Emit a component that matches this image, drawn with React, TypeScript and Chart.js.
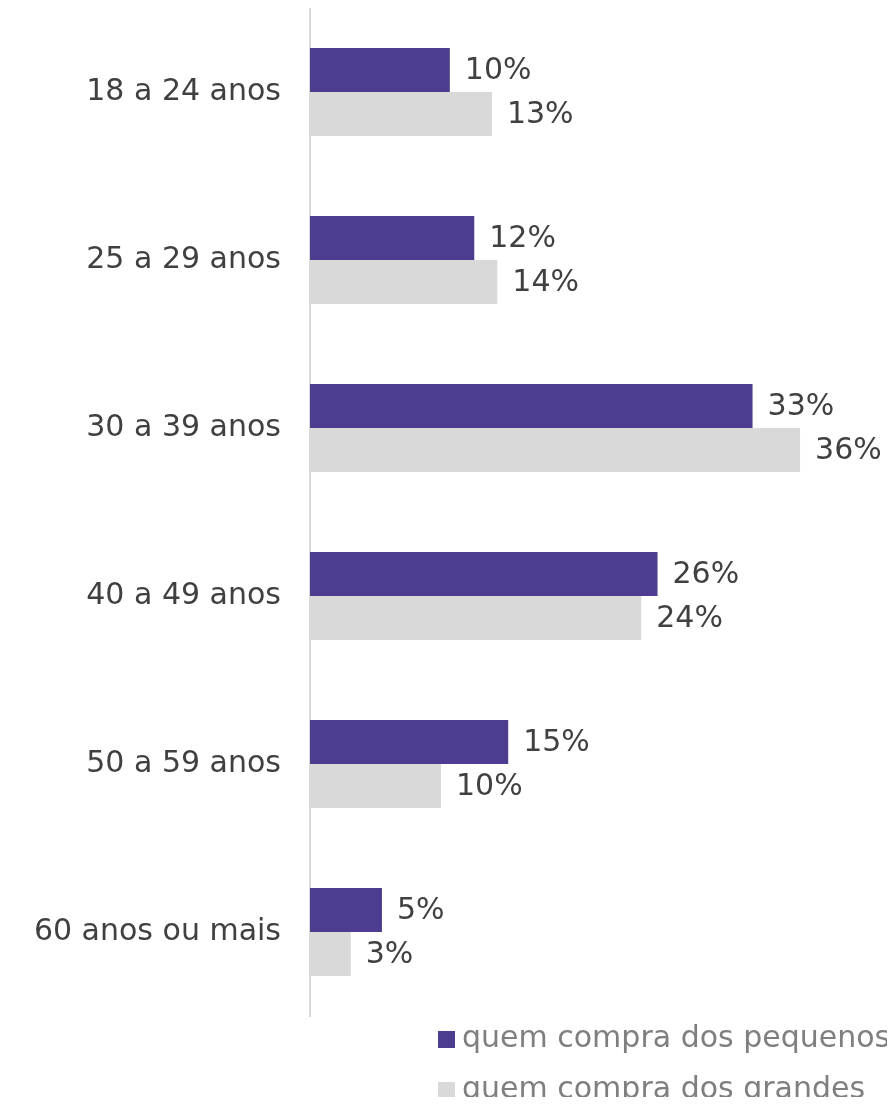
import React, { useEffect, useRef } from "react";
import { Chart, registerables } from "chart.js";

Chart.register(...registerables);

const categories = [
  "18 a 24 anos",
  "25 a 29 anos",
  "30 a 39 anos",
  "40 a 49 anos",
  "50 a 59 anos",
  "60 anos ou mais",
];
const seriesNames = ["quem compra dos pequenos", "quem compra dos grandes"];
const smallBuyers = [10.3, 12.1, 32.6, 25.6, 14.6, 5.3];
const bigBuyers = [13.4, 13.8, 36.1, 24.4, 9.65, 3.0];
const seriesColors = ["#4E3C8E", "#D9D9D9"];
const xMax = 40;

const FONT = "'DejaVu Sans', sans-serif";

const valueLabels = {
  id: "valueLabels",
  afterDatasetsDraw(chart: any) {
    const ctx = chart.ctx;
    ctx.save();
    ctx.font = `30px ${FONT}`;
    ctx.fillStyle = "#404040";
    ctx.textAlign = "left";
    ctx.textBaseline = "middle";
    chart.data.datasets.forEach((ds: any, i: number) => {
      const meta = chart.getDatasetMeta(i);
      meta.data.forEach((bar: any, j: number) => {
        const v = ds.data[j];
        ctx.fillText(`${Math.round(v)}%`, bar.x + 15, bar.y + 1);
      });
    });
    ctx.restore();
  },
};

const customLegend = {
  id: "customLegend",
  afterDraw(chart: any) {
    const ctx = chart.ctx;
    ctx.save();
    ctx.font = `30px ${FONT}`;
    ctx.textAlign = "left";
    ctx.textBaseline = "middle";
    const x0 = 430;
    const rows = [1031, 1082];
    seriesNames.forEach((name, i) => {
      const cy = rows[i];
      ctx.fillStyle = seriesColors[i];
      ctx.fillRect(x0, cy - 8, 17, 17);
      ctx.fillStyle = "#7F7F7F";
      ctx.fillText(name, x0 + 24, cy);
    });
    ctx.restore();
  },
};

export default function App() {
  const ref = useRef<HTMLCanvasElement>(null);
  useEffect(() => {
    if (!ref.current) return;
    const chart = new Chart(ref.current, {
      type: "bar",
      data: {
        labels: categories,
        datasets: [
          {
            label: seriesNames[0],
            data: smallBuyers,
            backgroundColor: seriesColors[0],
            categoryPercentage: 0.524,
            barPercentage: 1.0,
          },
          {
            label: seriesNames[1],
            data: bigBuyers,
            backgroundColor: seriesColors[1],
            categoryPercentage: 0.524,
            barPercentage: 1.0,
          },
        ],
      },
      options: {
        indexAxis: "y",
        animation: false,
        responsive: true,
        maintainAspectRatio: false,
        layout: { padding: { top: 0, bottom: 81, left: 0, right: 34 } },
        plugins: {
          legend: { display: false },
          tooltip: { enabled: false },
        },
        scales: {
          x: {
            display: false,
            min: 0,
            max: xMax,
          },
          y: {
            grid: { display: false, drawTicks: false },
            border: { display: true, color: "#D9D9D9", width: 2 },
            ticks: {
              color: "#404040",
              font: { family: FONT, size: 30 },
              padding: 29,
            },
            afterFit(scale: any) {
              scale.width = 302;
              scale.paddingTop = 0;
              scale.paddingBottom = 0;
            },
          },
        },
      },
      plugins: [valueLabels, customLegend],
    });
    return () => chart.destroy();
  }, []);
  return (
    <div style={{ position: "relative", width: 879, height: 1089 }}>
      <canvas ref={ref} />
    </div>
  );
}
